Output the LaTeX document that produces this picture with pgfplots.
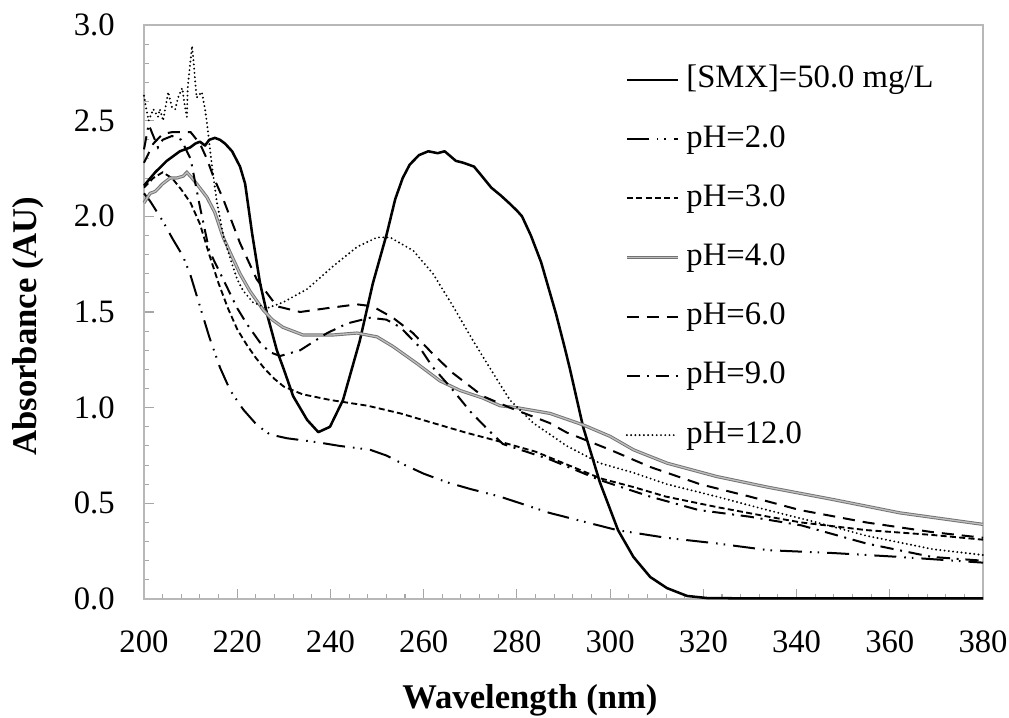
\documentclass[border=0pt]{standalone}
\usepackage{pgfplots}
\pgfplotsset{compat=1.18}
\usepackage{fontspec}
\setmainfont{Liberation Serif}
\begin{document}
\begin{tikzpicture}
\begin{axis}[
  scale only axis,
  width=629.25pt, height=430.5pt,
  xmin=200, xmax=380, ymin=0, ymax=3,
  xtick={200,220,...,380},
  ytick={0,0.5,...,3},
  minor x tick num=4, minor y tick num=4,
  tick align=inside,
  xtick pos=bottom, ytick pos=left,
  major tick length=7.5pt, minor tick length=3.75pt,
  tick style={color=black!35, line width=0.8pt},
  axis line style={color=black!28, line width=1.1pt},
  /pgf/number format/assume math mode=true,
  tick label style={font=\fontsize{24.5}{28}\selectfont},
  yticklabel style={/pgf/number format/.cd, fixed, fixed zerofill, precision=1, /tikz/.cd, anchor=east, inner sep=0pt, xshift=-21.75pt},
  xticklabel style={/pgf/number format/.cd, fixed, precision=0, /tikz/.cd, anchor=base, inner sep=0pt, yshift=-39.75pt},
  xlabel={\textbf{Wavelength (nm)}},
  ylabel={\textbf{Absorbance (AU)}},
  label style={font=\fontsize{26}{30}\selectfont},
  xlabel style={at={(axis description cs:0.46,-0.1915)}, anchor=base, inner sep=0pt},
  ylabel style={at={(axis description cs:-0.138,0.4756)}, anchor=center, inner sep=0pt},
  legend cell align=left,
  legend image code/.code={\draw[#1] (0pt,0pt) -- (38.25pt,0pt); \path (43.5pt,0pt);},
  legend style={draw=none, fill=none, at={(axis description cs:0.5685,0.935)}, anchor=north west,
    font=\fontsize{24.5}{28}\selectfont, row sep=22.4pt,
    nodes={inner sep=0pt, text height=17pt, text depth=5pt}},
  clip=false,
]
% [SMX]=50.0 mg/L
\addplot[black, line width=1.9pt, line join=round] table {
x y
200 2.16
202.4 2.23
204.9 2.29
207.7 2.34
209.9 2.36
211 2.38
212 2.39
213.1 2.37
214 2.40
215.2 2.41
216.3 2.40
217.4 2.38
218.9 2.34
220.6 2.26
221.7 2.17
223.2 1.91
224.9 1.65
226.5 1.48
228.5 1.30
230 1.20
232 1.06
235 0.936
237.4 0.872
239.9 0.90
242.7 1.04
246.3 1.35
249.1 1.65
252.1 1.91
253.9 2.09
255.5 2.20
257 2.27
259 2.32
261 2.34
263 2.33
264.5 2.34
266.9 2.29
268.5 2.28
270.8 2.26
272.5 2.21
274.5 2.15
276.5 2.11
278.3 2.07
280 2.03
281.1 2.00
283 1.90
285.2 1.76
288.4 1.49
290.3 1.31
291.4 1.20
294.2 0.90
297.8 0.61
301.7 0.36
305 0.22
308.6 0.115
312.2 0.057
316.5 0.016
320.8 0.005
330 0.003
350 0.003
380 0.003
};
\addlegendentry{[SMX]=50.0 mg/L}
% pH=2.0
\addplot[black, line width=1.5pt, dash pattern=on 16.5pt off 6pt on 1.2pt off 4.5pt on 1.2pt off 6pt] table {
x y
200 2.12
201.3 2.08
203.9 1.98
206.2 1.88
208.4 1.79
210 1.69
212 1.53
214 1.37
216.3 1.21
218.5 1.09
221.3 0.99
224.2 0.91
227 0.86
230.7 0.84
237 0.82
242 0.80
248.5 0.78
252 0.75
256 0.70
260 0.655
265 0.61
270 0.575
276.4 0.535
287 0.45
301.5 0.36
312 0.32
323 0.29
334 0.255
348 0.24
362 0.22
380 0.19
};
\addlegendentry{pH=2.0}
% pH=3.0
\addplot[black, line width=1.4pt, dash pattern=on 4.5pt off 2.5pt] table {
x y
200 2.15
202 2.20
204 2.23
206 2.20
208 2.14
210 2.07
212 1.96
214 1.80
216 1.65
218 1.52
220 1.41
222 1.33
224 1.26
226 1.20
228 1.15
230 1.11
234 1.07
240 1.04
248 1.01
255 0.97
262 0.92
269 0.87
276 0.825
284 0.77
291 0.70
298 0.63
305 0.585
312 0.535
323 0.48
334 0.43
341 0.40
355 0.36
369 0.335
380 0.31
};
\addlegendentry{pH=3.0}
% pH=4.0
\addplot[draw=black!55, line width=0.7pt, double=black!25, double distance=1pt] table {
x y
200 2.07
201.3 2.12
202.4 2.13
204 2.17
205.6 2.20
207 2.20
208.4 2.21
209.2 2.23
210.3 2.20
211.3 2.17
213.5 2.10
215.2 2.02
217 1.89
218.5 1.81
220.6 1.70
222.7 1.61
225.6 1.51
227.5 1.46
229.8 1.42
234.1 1.38
240.6 1.38
245.7 1.39
250 1.37
253.4 1.32
258.6 1.23
263.5 1.14
267.8 1.09
272.7 1.05
276.4 1.01
280 1.00
287.1 0.97
294.2 0.91
300 0.85
305 0.78
312.2 0.71
322.9 0.64
333.7 0.585
347.8 0.52
362.2 0.45
380 0.39
};
\addlegendentry{pH=4.0}
% pH=6.0
\addplot[black, line width=1.5pt, dash pattern=on 9pt off 6pt] table {
x y
200 2.28
202 2.38
204 2.43
206 2.44
208 2.44
210 2.44
212 2.38
213.5 2.30
215 2.20
217 2.09
220.6 1.86
224.2 1.67
228.5 1.53
233.5 1.50
239.3 1.52
245.7 1.54
249 1.53
253.4 1.47
257.7 1.39
262 1.28
266.3 1.18
272.7 1.06
278.5 1.00
287 0.92
290.7 0.87
300 0.78
308.6 0.69
319.3 0.60
330 0.535
340.7 0.465
355 0.40
369 0.35
380 0.32
};
\addlegendentry{pH=6.0}
% pH=9.0
\addplot[black, line width=1.5pt, dash pattern=on 10pt off 5pt on 1.5pt off 5pt] table {
x y
200 2.35
201 2.48
202 2.42
203 2.36
204 2.40
206 2.42
208 2.40
210 2.30
212 2.05
214 1.82
216 1.72
218 1.62
220 1.52
222 1.44
224.9 1.34
227 1.29
229.2 1.27
233.5 1.30
239.3 1.39
243.6 1.44
248.5 1.47
252 1.46
255 1.42
259 1.32
262 1.21
266 1.10
270 0.98
274 0.88
277 0.81
287 0.73
298 0.62
308.6 0.535
319 0.465
330 0.43
341 0.385
355 0.29
369 0.22
380 0.20
};
\addlegendentry{pH=9.0}
% pH=12.0
\addplot[black, line width=1.6pt, line cap=round, dash pattern=on 0pt off 3.2pt] table {
x y
200 2.63
200.5 2.56
201 2.50
202 2.56
203 2.52
203.4 2.56
204.1 2.50
205.2 2.65
206 2.57
206.7 2.56
207.3 2.62
208.2 2.67
208.8 2.57
209.2 2.52
209.4 2.68
210.3 2.89
210.6 2.82
211 2.70
211.3 2.62
212.4 2.65
213.1 2.56
213.6 2.47
214.6 2.26
215.6 2.08
217 1.90
218.5 1.78
220 1.67
221.3 1.61
223.4 1.55
226.4 1.52
229.8 1.55
235 1.62
240.6 1.74
245.7 1.84
250 1.89
252.8 1.89
257.8 1.82
262 1.70
266.3 1.53
270.6 1.35
274.9 1.18
278.5 1.04
283.5 0.92
290.7 0.80
297.8 0.71
305 0.66
312.2 0.60
322.9 0.535
333.7 0.465
344.4 0.40
355.1 0.33
369.3 0.26
380 0.23
};
\addlegendentry{pH=12.0}
\end{axis}
\pgfresetboundingbox
\path (current axis.south west) ++(-108pt,-88.5pt) coordinate (bl);
\path (current axis.north east) ++(19.5pt,18.75pt) coordinate (tr);
\path[use as bounding box] (bl) rectangle (tr);
\end{tikzpicture}
\end{document}
